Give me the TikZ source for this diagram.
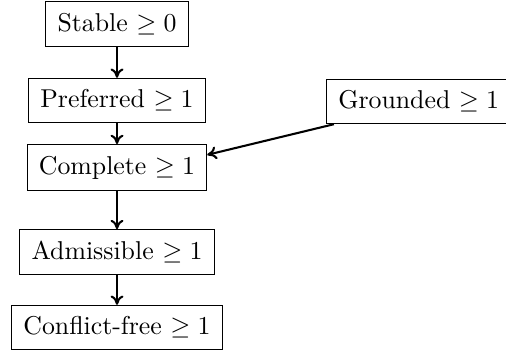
\documentclass[tikz,border=0pt]{standalone}
\usepackage{amsmath,amsfonts}
\usepackage{tikz}
\usetikzlibrary{arrows.meta}
\tikzstyle{sem}=[rectangle,draw,line width=0.4pt,inner xsep=4.5pt,inner ysep=4.4pt]
\tikzstyle{implies}=[-{To[length=3.6pt,width=5pt]},thick]

\begin{document}
\begin{tikzpicture}[x=1pt,y=1pt]
        \useasboundingbox (0,0) rectangle (196.1,-135.66);
        \node[sem] (stable) at (45.35,-9.3) {Stable $\geq 0$};
        \node[sem] (preferred) at (45.35,-38.95) {Preferred $\geq 1$};
        \node[sem,anchor=west] (grounded) at (126.4,-39.34) {Grounded $\geq 1$\hspace{2pt}};
        \node[sem] (complete) at (45.35,-64.92) {Complete $\geq 1$};
        \node[sem] (admissible) at (45.35,-97.67) {Admissible $\geq 1$};
        \node[sem] (conflictfree) at (45.35,-126.94) {Conflict-free $\geq 1$};
        \draw[implies] (stable) -- (preferred);
        \draw[implies] (preferred) -- (complete);
        \draw[implies] (grounded.195) -- (complete.8);
        \draw[implies] (complete) -- (admissible);
        \draw[implies] (admissible) -- (conflictfree);
\end{tikzpicture}
\end{document}
